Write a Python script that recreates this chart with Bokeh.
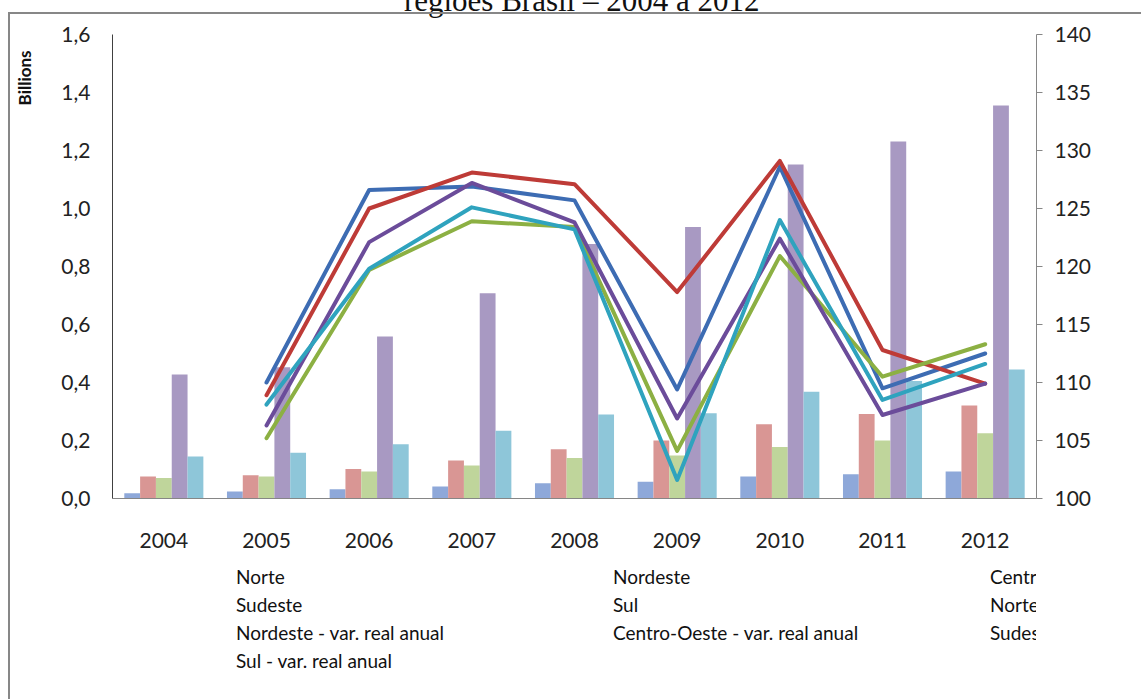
import json
import math

from bokeh.embed import file_html
from bokeh.layouts import column
from bokeh.models import (ColumnDataSource, CustomJSTickFormatter, FactorRange, FixedTicker,
                          InlineStyleSheet, Legend, LegendItem, LinearAxis, Range1d)
from bokeh.plotting import figure
from bokeh.resources import INLINE
from bokeh.transform import dodge

# ---- data -------------------------------------------------------------
years = ["2004", "2005", "2006", "2007", "2008", "2009", "2010", "2011", "2012"]
line_years = years[1:]

# receita por região (bilhões, eixo esquerdo)
norte = [0.018, 0.024, 0.032, 0.041, 0.053, 0.058, 0.076, 0.084, 0.093]
nordeste = [0.076, 0.080, 0.102, 0.131, 0.170, 0.200, 0.256, 0.291, 0.321]
centro_oeste = [0.071, 0.076, 0.093, 0.114, 0.140, 0.148, 0.178, 0.200, 0.225]
sudeste = [0.428, 0.453, 0.559, 0.708, 0.878, 0.936, 1.152, 1.231, 1.355]
sul = [0.145, 0.158, 0.187, 0.234, 0.290, 0.294, 0.368, 0.405, 0.445]

# variação real anual (índice, eixo direito), 2005-2012
norte_var = [110.0, 126.6, 126.9, 125.7, 109.4, 128.6, 109.5, 112.5]
nordeste_var = [108.9, 125.0, 128.1, 127.1, 117.8, 129.1, 112.8, 109.9]
centro_oeste_var = [105.2, 119.7, 123.9, 123.4, 104.1, 120.9, 110.5, 113.3]
sudeste_var = [106.3, 122.1, 127.2, 123.8, 106.9, 122.4, 107.2, 109.9]
sul_var = [108.1, 119.8, 125.1, 123.2, 101.6, 124.0, 108.5, 111.6]

left_ticks = [0.0, 0.2, 0.4, 0.6, 0.8, 1.0, 1.2, 1.4, 1.6]
right_ticks = [100, 105, 110, 115, 120, 125, 130, 135, 140]

regions = ["Norte", "Nordeste", "Centro-Oeste", "Sudeste", "Sul"]
bar_colors = ["#8EA8D9", "#D99694", "#BFD59B", "#A899C2", "#8EC6D9"]
line_colors = ["#3D6CB3", "#BE3B37", "#8CB043", "#6B4C9A", "#2FA3BE"]

title_text = "regiões Brasil – 2004 a 2012"
unit_text = "Billions"

FONT = "Lato"
TOP_CROP = 30      # the page is scrolled up so the title runs off the top edge
LEGEND_H = 134     # height of the legend strip laid over the bottom of the chart
LEGEND_LEFT = 70

# ---- figure -----------------------------------------------------------
p = figure(
    frame_width=924, frame_height=464,
    x_range=FactorRange(factors=years),
    y_range=Range1d(0, 1.6),
    output_backend="svg", toolbar_location=None,
    min_border_left=112, min_border_right=105,
    min_border_top=34 + TOP_CROP, min_border_bottom=201,
)
p.extra_y_ranges = {"var": Range1d(100, 140)}
p.xgrid.visible = False
p.ygrid.visible = False
p.outline_line_color = None
p.background_fill_color = "white"
p.border_fill_color = "white"

# page offset and grey box around the chart area
p.styles = {"position": "relative", "margin-top": f"-{TOP_CROP}px"}
p.stylesheets = [InlineStyleSheet(css=(
    f":host::after {{ content: ''; position: absolute; left: 8px; top: {12 + TOP_CROP}px;"
    " right: 0; bottom: 0; border-left: 2px solid #878787; border-top: 2px solid #878787;"
    " pointer-events: none; }"
))]

# ---- bars -------------------------------------------------------------
bar_src = ColumnDataSource(dict(year=years, Norte=norte, Nordeste=nordeste,
                                **{"Centro-Oeste": centro_oeste}, Sudeste=sudeste, Sul=sul))
bar_w = 0.154
offsets = [-2 * bar_w, -bar_w, 0.0, bar_w, 2 * bar_w]
for name, off, col in zip(regions, offsets, bar_colors):
    p.vbar(x=dodge("year", off, range=p.x_range), top=name, width=bar_w, source=bar_src,
           fill_color=col, line_color=None)

# ---- lines (right axis) -------------------------------------------------
line_src = ColumnDataSource(dict(year=line_years, Norte=norte_var, Nordeste=nordeste_var,
                                 **{"Centro-Oeste": centro_oeste_var}, Sudeste=sudeste_var,
                                 Sul=sul_var))
for name, col in zip(regions, line_colors):
    p.line(x="year", y=name, source=line_src, y_range_name="var", line_color=col,
           line_width=4, line_join="round", line_cap="round")


# ---- axes -------------------------------------------------------------
def bare(axis):
    axis.axis_line_color = None
    axis.major_tick_line_color = None
    axis.minor_tick_line_color = None
    axis.major_tick_out = 0
    axis.major_tick_in = 0


xa = p.xaxis[0]
bare(xa)
xa.axis_line_color = "#868686"
xa.major_label_standoff = 34
xa.major_label_text_font = FONT
xa.major_label_text_font_size = "21px"
xa.major_label_text_color = "#222222"

ya = p.yaxis[0]
bare(ya)
ya.ticker = FixedTicker(ticks=left_ticks)
ya.formatter = CustomJSTickFormatter(code="return tick.toFixed(1).replace('.', ',');")
ya.axis_line_color = "#404040"
ya.major_label_standoff = 22
ya.major_label_text_font = FONT
ya.major_label_text_font_size = "21px"
ya.major_label_text_color = "#222222"

ra = LinearAxis(y_range_name="var", ticker=FixedTicker(ticks=right_ticks))
ra.axis_line_color = "#868686"
ra.major_tick_line_color = "#868686"
ra.minor_tick_line_color = None
ra.major_tick_out = 6
ra.major_tick_in = 0
ra.major_label_standoff = 12
ra.major_label_text_font = FONT
ra.major_label_text_font_size = "21px"
ra.major_label_text_color = "#222222"
p.add_layout(ra, "right")

# unit caption, upright along the top of the left axis
unit_axis = LinearAxis(ticker=FixedTicker(ticks=[1.545]),
                       formatter=CustomJSTickFormatter(code=f"return {json.dumps(unit_text)};"))
bare(unit_axis)
unit_axis.major_label_orientation = math.pi / 2
unit_axis.major_label_standoff = 34
unit_axis.major_label_text_font = FONT
unit_axis.major_label_text_font_style = "bold"
unit_axis.major_label_text_font_size = "17px"
unit_axis.major_label_text_color = "#111111"
p.add_layout(unit_axis, "left")

# chart title above the plotting area (positioned on the year scale)
title_axis = LinearAxis(ticker=FixedTicker(ticks=[4.57]),
                        formatter=CustomJSTickFormatter(code=f"return {json.dumps(title_text)};"))
bare(title_axis)
title_axis.major_label_standoff = 17
title_axis.major_label_text_font = "Liberation Serif"
title_axis.major_label_text_font_size = "31px"
title_axis.major_label_text_color = "#111111"
p.add_layout(title_axis, "above")

# ---- legend: a transparent strip laid over the space under the x axis ----
lf = figure(
    width=1141 - LEGEND_LEFT, height=LEGEND_H,
    x_range=Range1d(0, 1), y_range=Range1d(0, 1),
    output_backend="svg", toolbar_location=None,
    x_axis_location=None, y_axis_location=None,
    min_border=0, min_border_left=0, min_border_right=0,
    min_border_top=0, min_border_bottom=0,
    outline_line_color=None, background_fill_alpha=0, border_fill_alpha=0,
)
lf.xgrid.visible = False
lf.ygrid.visible = False
lf.styles = {"margin-top": f"-{LEGEND_H}px", "margin-left": f"{LEGEND_LEFT}px"}

legend_entries = [
    ("Norte", bar_colors[0], 8), ("Nordeste", bar_colors[1], 8),
    ("Centro-Oeste", bar_colors[2], 8), ("Sudeste", bar_colors[3], 8),
    ("Sul", bar_colors[4], 8), ("Norte - var. real anual", line_colors[0], 2),
    ("Nordeste - var. real anual", line_colors[1], 2),
    ("Centro-Oeste - var. real anual", line_colors[2], 2),
    ("Sudeste - var. real anual", line_colors[3], 2),
    ("Sul - var. real anual", line_colors[4], 2),
]
items = []
for label, color, lw in legend_entries:
    r = lf.line(x=[], y=[], line_color=color, line_width=lw, line_cap="butt")
    items.append(LegendItem(label=label, renderers=[r]))
legend = Legend(items=items, orientation="horizontal", ncols=3, location="top_left",
                glyph_width=48, glyph_height=22, label_height=22, label_width=318,
                spacing=5, label_standoff=6, padding=0, margin=0,
                border_line_color=None, background_fill_alpha=0,
                label_text_font=FONT, label_text_font_size="19px",
                label_text_color="#111111")
lf.add_layout(legend)

page = column(p, lf, spacing=0)

open("out.html", "w").write(file_html(page, INLINE))
